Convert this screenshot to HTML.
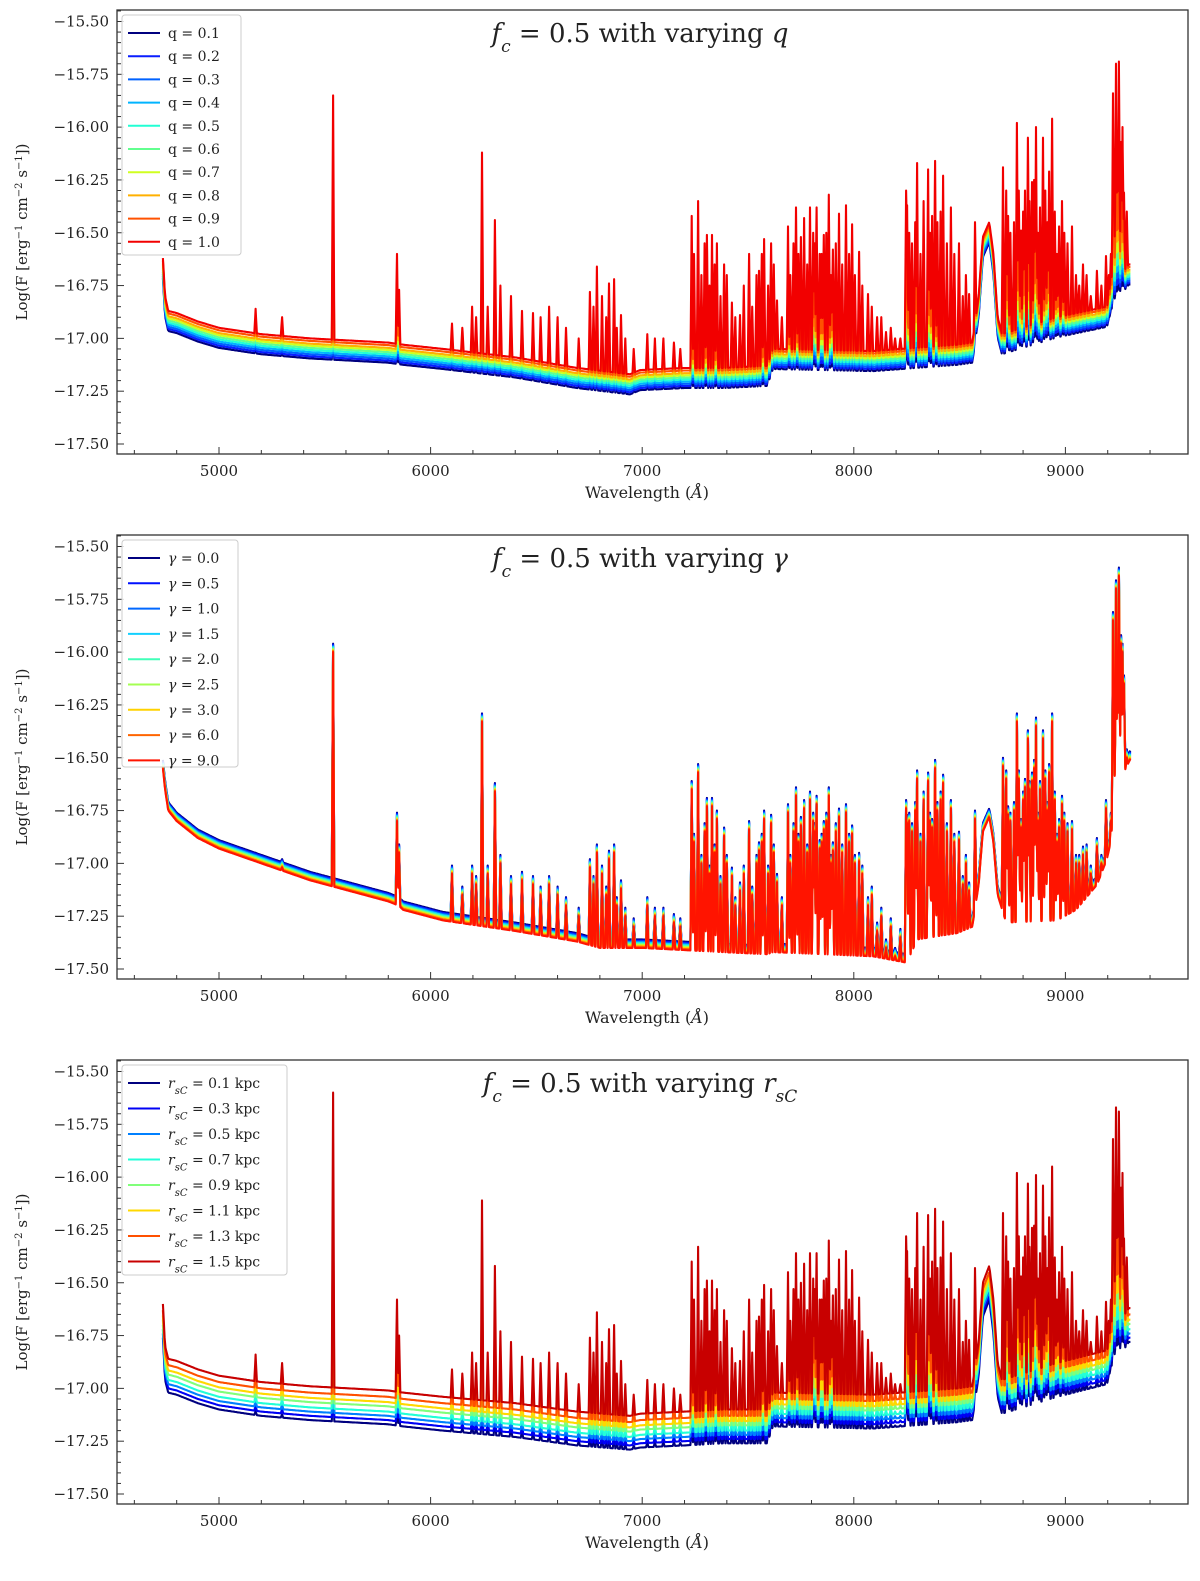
<!DOCTYPE html>
<html><head><meta charset="utf-8"><style>
html,body{margin:0;padding:0;background:#fff;}
svg{display:block;}
text{font-family:"DejaVu Serif","Liberation Serif",serif;fill:#222;}
</style></head><body>
<svg id="fig" width="1200" height="1581" viewBox="0 0 1200 1581" xmlns="http://www.w3.org/2000/svg"></svg>
<script>
// ---------- shared axis data ----------
const xTicks = [5000, 6000, 7000, 8000, 9000];
const yTicks = [-17.5, -17.25, -17.0, -16.75, -16.5, -16.25, -16.0, -15.75, -15.5];
const yTickLabels = ["\u221217.50","\u221217.25","\u221217.00","\u221216.75","\u221216.50","\u221216.25","\u221216.00","\u221215.75","\u221215.50"];

// strong emission line wavelengths (shared by all panels)
const lineW = [5173,5298,5539,5841,5851,6101,6196,6243,6304,6432,6484,6753,6786,6843,6867,6900,7024,7100,7150,
7234,7264,7306,7330,7353,7387,7424,7462,7505,7552,7576,7609,7637,7689,7727,7750,7765,7793,7824,7839,7858,7882,7901,7930,7963,7992,8025,8067,8110,8152,8195,8247,8252,8299,8351,8370,8384,8422,8459,8497,8545,8573,
8705,8729,8771,8790,8809,8823,8842,8861,8880,8894,8923,8937,8970,8984,9031,9083,9149,9192,9225,9239,9253,9263,9277];
// weaker lines (forest)
const minorW = [6150,6215,6270,6330,6380,6520,6560,6600,6640,6700,6770,6810,6830,6880,6920,6960,7060,7180,
7245,7280,7295,7318,7342,7370,7400,7440,7480,7520,
7540,7565,7595,7622,7660,7700,7715,7738,7780,7808,
7815,7848,7870,7892,7915,7945,7978,8005,8040,8085,
8130,8175,8220,8262,8275,8290,8315,8330,8360,8395,
8410,8440,8475,8515,8530,8720,8740,8757,8780,8800,
8830,8852,8870,8905,8915,8950,8960,8995,9010,9050,
9065,9100,9120,9170,9205,9215,9230,9245,9270,9290];

// panel 1 (varying q)
const p1ContW = [4735,4745,4760,4800,4900,5000,5200,5430,5800,5870,6059,6400,6692,6942,6990,7200,7382,7590,7618,8091,8488,8560,8590,8610,8640,8660,8680,8700,8960,9196,9225,9260,9300,9310];
const p1ContV = [-16.62,-16.80,-16.87,-16.88,-16.92,-16.95,-16.98,-17.00,-17.02,-17.03,-17.05,-17.09,-17.14,-17.17,-17.15,-17.14,-17.14,-17.13,-17.05,-17.06,-17.03,-17.02,-16.80,-16.52,-16.45,-16.60,-16.90,-16.98,-16.90,-16.85,-16.75,-16.70,-16.65,-16.65];
const p1Peaks = [-16.86,-16.90,-15.85,-16.60,-16.77,-16.93,-16.85,-16.12,-16.44,-16.87,-16.88,-16.78,-16.66,-16.74,-16.72,-16.89,-16.98,-17.00,-17.02,
-16.42,-16.35,-16.51,-16.51,-16.55,-16.65,-16.83,-16.89,-16.60,-16.68,-16.53,-16.55,-16.82,-16.47,-16.38,-16.52,-16.43,-16.38,-16.38,-16.60,-16.51,-16.32,-16.58,-16.41,-16.37,-16.46,-16.59,-16.79,-16.90,-16.97,-17.00,-16.30,-16.37,-16.17,-16.20,-16.42,-16.16,-16.23,-16.38,-16.55,-16.79,-16.45,
-16.19,-16.42,-15.98,-16.49,-16.30,-16.05,-16.26,-16.00,-16.38,-16.05,-16.21,-15.96,-16.47,-16.35,-16.47,-16.65,-16.68,-16.61,-15.84,-15.70,-15.69,-16.07,-16.31];
const p1Minor = [-16.95,-16.9,-16.85,-16.75,-16.8,-16.9,-16.85,-16.9,-16.95,-17.0,-16.85,-16.8,-16.9,-16.95,-17.0,-17.05,-17.0,-17.05,
-16.6,-16.7,-16.55,-16.75,-16.65,-16.8,-16.7,-16.9,-16.75,-16.85,
-16.7,-16.6,-16.75,-16.65,-16.9,-16.7,-16.55,-16.6,-16.65,-16.5,
-16.55,-16.6,-16.5,-16.7,-16.55,-16.65,-16.6,-16.7,-16.75,-16.85,
-16.9,-16.95,-17.0,-16.5,-16.55,-16.45,-16.6,-16.35,-16.5,-16.45,
-16.4,-16.55,-16.6,-16.8,-16.7,-16.3,-16.5,-16.45,-16.3,-16.4,
-16.35,-16.25,-16.5,-16.3,-16.45,-16.4,-16.6,-16.5,-16.55,-16.7,
-16.75,-16.7,-16.8,-16.75,-16.7,-16.6,-16.3,-16.1,-16.0,-16.4];
const p1Labels = ["q = 0.1","q = 0.2","q = 0.3","q = 0.4","q = 0.5","q = 0.6","q = 0.7","q = 0.8","q = 0.9","q = 1.0"];
const p1Offsets = [-0.095,-0.085,-0.075,-0.065,-0.055,-0.045,-0.035,-0.025,-0.012,0];
const p1LineScale = [0.1,0.15,0.2,0.25,0.3,0.35,0.4,0.5,0.6,1.0];
const p1Colors = ["#00007f","#0a1eff","#0062ff","#00b4ff","#22ffd4","#62ff8f","#d0ff20","#ffb000","#ff5200","#f20000"];

// panel 2 (varying gamma)
const p2ContW = [4735,4745,4760,4800,4900,5000,5200,5430,5800,5850,5870,6059,6400,6692,6800,6840,7000,7382,7590,7618,8091,8250,8300,8488,8560,8590,8610,8640,8660,8680,8720,8960,9050,9150,9196,9225,9260,9310];
const p2ContV = [-16.55,-16.65,-16.75,-16.80,-16.88,-16.93,-17.00,-17.08,-17.18,-17.20,-17.22,-17.27,-17.32,-17.37,-17.40,-17.40,-17.40,-17.42,-17.43,-17.42,-17.44,-17.47,-17.36,-17.33,-17.30,-17.10,-16.85,-16.78,-16.90,-17.15,-17.28,-17.27,-17.22,-17.10,-16.98,-16.85,-16.60,-16.50];
const p2Peaks = [-16.99,-17.02,-16.00,-16.80,-16.95,-17.05,-17.05,-16.33,-16.66,-17.08,-17.10,-17.02,-16.95,-16.98,-16.95,-17.12,-17.20,-17.25,-17.28,
-16.65,-16.57,-16.73,-16.73,-16.79,-16.87,-17.06,-17.13,-16.84,-16.94,-16.79,-16.81,-17.09,-16.76,-16.68,-16.82,-16.74,-16.70,-16.72,-16.93,-16.84,-16.68,-16.94,-16.78,-16.76,-16.86,-16.99,-17.20,-17.32,-17.40,-17.44,-16.74,-16.81,-16.60,-16.61,-16.83,-16.55,-16.62,-16.74,-16.89,-17.13,-16.79,
-16.54,-16.77,-16.33,-16.83,-16.64,-16.41,-16.61,-16.35,-16.65,-16.41,-16.57,-16.33,-16.83,-16.72,-16.84,-16.96,-16.92,-16.74,-15.85,-15.70,-15.64,-15.96,-16.15];
const p2Minor = [-17.15,-17.1,-17.05,-17.0,-17.1,-17.15,-17.1,-17.15,-17.2,-17.25,-17.1,-17.05,-17.15,-17.2,-17.25,-17.3,-17.25,-17.3,
-16.9,-17.0,-16.85,-17.05,-16.95,-17.1,-17.0,-17.2,-17.05,-17.15,
-17.0,-16.9,-17.05,-16.95,-17.2,-17.0,-16.85,-16.9,-16.95,-16.8,
-16.85,-16.9,-16.8,-17.0,-16.85,-16.95,-16.9,-17.0,-17.05,-17.15,
-17.25,-17.3,-17.35,-16.8,-16.85,-16.75,-16.9,-16.7,-16.8,-16.75,
-16.7,-16.85,-16.9,-17.1,-17.0,-16.6,-16.8,-16.75,-16.6,-16.7,
-16.65,-16.55,-16.8,-16.6,-16.75,-16.7,-16.9,-16.8,-16.85,-17.0,
-17.0,-16.95,-17.05,-17.0,-16.95,-16.8,-16.4,-16.1,-16.0,-16.5];
const p2Labels = ["0.0","0.5","1.0","1.5","2.0","2.5","3.0","6.0","9.0"];
const p2Offsets = [0.04,0.035,0.03,0.025,0.02,0.015,0.01,0.005,0];
const p2LineScale = [1,1,1,1,1,1,1,1,1];
const p2Colors = ["#00007f","#0010ff","#0068ff","#12d0ff","#40ffb8","#a4ff52","#ffd200","#ff6400","#ff1400"];

// panel 3 (varying r_sC)
const p3ContW = [4735,4745,4760,4800,4900,5000,5200,5430,5800,5870,6059,6400,6692,6942,6990,7200,7382,7590,7618,8091,8488,8560,8590,8610,8640,8660,8680,8700,8960,9196,9225,9260,9300,9310];
const p3ContV = [-16.60,-16.80,-16.86,-16.87,-16.91,-16.94,-16.97,-16.99,-17.01,-17.02,-17.04,-17.07,-17.11,-17.13,-17.12,-17.11,-17.10,-17.10,-17.02,-17.03,-17.00,-16.99,-16.78,-16.50,-16.42,-16.58,-16.88,-16.96,-16.88,-16.82,-16.72,-16.68,-16.62,-16.62];
const p3Peaks = [-16.84,-16.88,-15.60,-16.58,-16.75,-16.91,-16.83,-16.11,-16.42,-16.85,-16.86,-16.76,-16.64,-16.72,-16.70,-16.87,-16.96,-16.98,-17.00,
-16.40,-16.33,-16.49,-16.49,-16.53,-16.63,-16.81,-16.87,-16.58,-16.66,-16.51,-16.53,-16.80,-16.45,-16.36,-16.50,-16.41,-16.36,-16.36,-16.58,-16.49,-16.30,-16.56,-16.39,-16.35,-16.44,-16.57,-16.77,-16.88,-16.95,-16.98,-16.28,-16.35,-16.17,-16.18,-16.40,-16.15,-16.21,-16.36,-16.53,-16.77,-16.43,
-16.17,-16.40,-15.98,-16.47,-16.28,-16.03,-16.24,-15.99,-16.36,-16.04,-16.19,-15.95,-16.45,-16.33,-16.45,-16.63,-16.66,-16.59,-15.82,-15.67,-15.69,-16.05,-16.29];
const p3Minor = [-16.93,-16.88,-16.83,-16.73,-16.78,-16.88,-16.83,-16.88,-16.93,-16.98,-16.83,-16.78,-16.88,-16.93,-16.98,-17.03,-16.98,-17.03,
-16.58,-16.68,-16.53,-16.73,-16.63,-16.78,-16.68,-16.88,-16.73,-16.83,
-16.68,-16.58,-16.73,-16.63,-16.88,-16.68,-16.53,-16.58,-16.63,-16.48,
-16.53,-16.58,-16.48,-16.68,-16.53,-16.63,-16.58,-16.68,-16.73,-16.83,
-16.88,-16.93,-16.98,-16.48,-16.53,-16.43,-16.58,-16.33,-16.48,-16.43,
-16.38,-16.53,-16.58,-16.78,-16.68,-16.28,-16.48,-16.43,-16.28,-16.38,
-16.33,-16.23,-16.48,-16.28,-16.43,-16.38,-16.58,-16.48,-16.53,-16.68,
-16.73,-16.68,-16.78,-16.73,-16.68,-16.58,-16.28,-16.08,-15.98,-16.38];
const p3Labels = ["0.1","0.3","0.5","0.7","0.9","1.1","1.3","1.5"];
const p3Offsets = [-0.16,-0.14,-0.12,-0.10,-0.075,-0.055,-0.03,0];
const p3LineScale = [0.15,0.2,0.25,0.3,0.4,0.5,0.65,1.0];
const p3Colors = ["#00007f","#0000f5","#0080ff","#22ffd8","#80ff7a","#ffd800","#ff5000","#c80000"];

// ---------- drawing ----------
const NS = "http://www.w3.org/2000/svg";
const svg = document.getElementById("fig");
const L = 117, R = 1188;
function mk(tag, attrs, parent) {
  const e = document.createElementNS(NS, tag);
  for (const k in attrs) e.setAttribute(k, attrs[k]);
  (parent || svg).appendChild(e);
  return e;
}
function interp(ws, vs, w) {
  if (w <= ws[0]) return vs[0];
  for (let i = 1; i < ws.length; i++) {
    if (w <= ws[i]) { const t = (w - ws[i-1]) / (ws[i] - ws[i-1]); return vs[i-1] + t * (vs[i] - vs[i-1]); }
  }
  return vs[vs.length - 1];
}

const panels = [
  {T:10, contW:p1ContW, contV:p1ContV, peaks:p1Peaks, minor:p1Minor, offsets:p1Offsets, scale:p1LineScale, colors:p1Colors, kind:"q", labels:p1Labels, legH:240, legW:119, step:23.2},
  {T:535, contW:p2ContW, contV:p2ContV, peaks:p2Peaks, minor:p2Minor, offsets:p2Offsets, scale:p2LineScale, colors:p2Colors, kind:"g", labels:p2Labels, legH:227, legW:116, step:25.3},
  {T:1060, contW:p3ContW, contV:p3ContV, peaks:p3Peaks, minor:p3Minor, offsets:p3Offsets, scale:p3LineScale, colors:p3Colors, kind:"r", labels:p3Labels, legH:210, legW:165, step:25.5}
];

const HW = 6;
panels.forEach((P, pi) => {
  const T = P.T, B = T + 444;
  const xs = w => 219 + (w - 5000) * 0.2116;
  const ys = v => T + 11.5 + (-15.5 - v) * 211.25;
  const g = mk("g", {});
  
  
  const cp = mk("clipPath", {id: "clip" + pi}, g);
  mk("rect", {x: L, y: T, width: R - L, height: B - T}, cp);

  const allW = lineW.concat(minorW);
  const allP = P.peaks.concat(P.minor);
  let pts = [];
  for (let w = 4735; w <= 9310; w += 4) pts.push(w);
  allW.forEach(w => { pts.push(w - HW, w, w + HW); });
  pts = Array.from(new Set(pts)).filter(w => w >= 4735 && w <= 9310).sort((a, b) => a - b);
  const amps = allW.map((w, i) => Math.max(0, allP[i] - interp(P.contW, P.contV, w)));

  const sg = mk("g", {"clip-path": "url(#clip" + pi + ")"}, g);
  
  
  P.offsets.forEach((off, s) => {
    let d = "";
    pts.forEach((w, k) => {
      let v = interp(P.contW, P.contV, w) + off;
      let add = 0;
      for (let i = 0; i < allW.length; i++) {
        const dd = Math.abs(w - allW[i]);
        if (dd < HW) add = Math.max(add, P.scale[s] * amps[i] * (1 - dd / HW));
      }
      v += add;
      d += (k ? "L" : "M") + xs(w).toFixed(1) + " " + ys(v).toFixed(1);
    });
    const p = mk("path", {d: d, fill: "none", stroke: P.colors[s], "stroke-width": 2.1, "stroke-linejoin": "round"}, sg);
    
    
  });

  const fr = mk("rect", {x: L, y: T, width: R - L, height: B - T, fill: "none", stroke: "#333", "stroke-width": 1.3}, g);
  
  

  for (let w = 4600; w <= 9500; w += 200) {
    const major = w % 1000 === 0;
    mk("line", {x1: xs(w), x2: xs(w), y1: B, y2: B - (major ? 7 : 4), stroke: "#333", "stroke-width": 1}, g);
  }
  xTicks.forEach(w => {
    const t = mk("text", {x: xs(w), y: B + 22, "text-anchor": "middle", "font-size": 15}, g);
    t.textContent = String(w);
    
    
  });
  for (let k = 0; k <= 42; k++) {
    const v = -17.55 + k * 0.05;
    const y = ys(v);
    if (y < T || y > B) continue;
    const major = (k - 1) % 5 === 0;
    mk("line", {x1: L, x2: L + (major ? 7 : 4), y1: y, y2: y, stroke: "#333", "stroke-width": 1}, g);
  }
  yTicks.forEach((v, i) => {
    const t = mk("text", {x: 109, y: ys(v) + 5, "text-anchor": "end", "font-size": 15}, g);
    t.textContent = yTickLabels[i];
    
    
  });
  const xl = mk("text", {x: 647, y: B + 44, "text-anchor": "middle", "font-size": 16}, g);
  xl.innerHTML = 'Wavelength (<tspan font-style="italic">\u00c5</tspan>)';
  
  
  const yl = mk("text", {x: 0, y: 0, "text-anchor": "middle", "font-size": 15, transform: "translate(27," + (T + 222) + ") rotate(-90)"}, g);
  yl.innerHTML = 'Log(F [erg<tspan baseline-shift="super" font-size="10">\u22121</tspan> cm<tspan baseline-shift="super" font-size="10">\u22122</tspan> s<tspan baseline-shift="super" font-size="10">\u22121</tspan>])';
  
  
  const tt = mk("text", {x: 640, y: T + 32, "text-anchor": "middle", "font-size": 26, "font-family": "DejaVu Sans, sans-serif"}, g);
  let last = P.kind === "q" ? '<tspan font-style="italic">q</tspan>' : P.kind === "g" ? '<tspan font-style="italic">\u03b3</tspan>' : '<tspan font-style="italic">r</tspan><tspan baseline-shift="sub" font-size="17" font-style="italic">sC</tspan>';
  tt.innerHTML = '<tspan font-style="italic">f</tspan><tspan baseline-shift="sub" font-size="17" font-style="italic">c</tspan> = 0.5 <tspan font-family="DejaVu Serif, serif">with varying</tspan> ' + last;
  
  

  const lg = mk("g", {}, g);
  
  
  mk("rect", {x: 122, y: T + 5, width: P.legW, height: P.legH, rx: 3, fill: "#fff", "fill-opacity": 0.85, stroke: "#ccc", "stroke-width": 1}, lg);
  P.labels.forEach((lab, i) => {
    const y = T + 23 + i * P.step;
    const ln = mk("line", {x1: 128, x2: 160, y1: y, y2: y, stroke: P.colors[i], "stroke-width": 2}, lg);
    
    
    const tx = mk("text", {x: 168, y: y + 5, "font-size": 14}, lg);
    if (P.kind === "q") tx.textContent = lab;
    else if (P.kind === "g") tx.innerHTML = '<tspan font-style="italic">\u03b3</tspan> = ' + lab;
    else tx.innerHTML = '<tspan font-style="italic">r</tspan><tspan baseline-shift="sub" font-size="10" font-style="italic">sC</tspan> = ' + lab + ' kpc';
    
    
  });
});
</script>
</body></html>
